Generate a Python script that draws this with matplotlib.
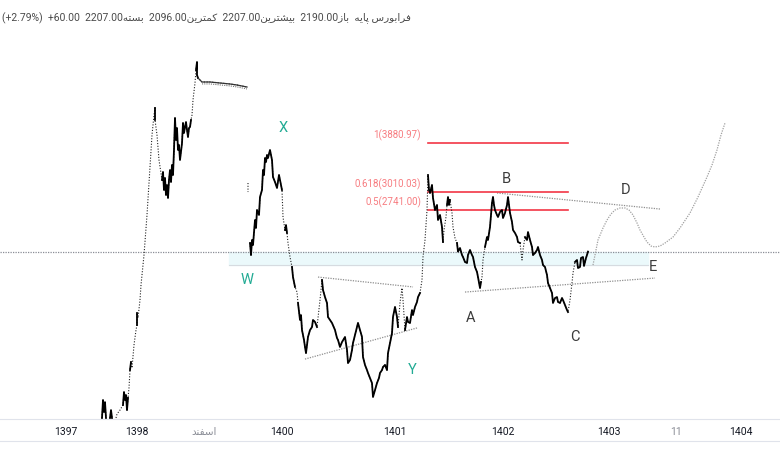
import matplotlib.pyplot as plt
import matplotlib.lines as mlines
import numpy as np

nan = np.nan

# bar index / price path (dense = 1 where bars are packed, 0 where sparse dotted bars)
path_idx = [102, 103, 104, 105, 106, nan,
            110, 111, 112, nan,
            116, 117, 120, 123, 124, 125, 126, 127, 128, 129, 130, 131, 132, 134, 136, 137, 137, 138,
            140, 141, 144, 147, 150, 152, 154, 155, 155, 157, 159,
            162, 163, 164, 165, 166, 167, 168, 169, 170, 171, 172, 173, 174, 175, 176, 177, 178, 179,
            180, 181, 182, 183, 184, 185, 186, 187, 188, 189, 190, 191, 192, 193, 195, 196, 197, 197,
            198, 202, 210, 220, 230, 237, 247, nan,
            248, 248, nan,
            250, 251, 252, 253, 255, 256, 257, 259, 260, 262, 263, 264, 265, 266, 267, 268, 270, 271,
            272, 273, 275, 277, 279, 280, 282, 283, 285, 286, 287, 288, 290, 292, 293, 295, 297, 298,
            300, 301, 302, 304, 305, 306, 307, 308, 310, 312, 313, 315, 317, 318, 320, 322, 323, 325,
            327, 328, 330, 332, 335, 337, 338, 340, 342, 345, 347, 348, 350, 352, 353, 355, 357, 358,
            360, 362, 363, 365, 367, 368, 370, 372, 373, 375, 377, 379, 380, 382, 383, 385, 387, 388,
            390, 392, 393, 395, 397, 398, 400, 402, 403, 405, 407, 408, 410, 412, 413, 415, 417, 418,
            420, 422, 423, 425, 427, 428, 429, 430, 432, 433, 435, 437, 438, 440, 442, 443, 444, 446,
            447, 448, 449, 450, 452, 453, 455, 457, 458, 460, 462, 463, 465, 467, 468, 470, 472, 473,
            475, 477, 478, 480, 481, 482, 483, 485, 487, 488, 490, 492, 493, 494, 495, 497, 498, 500,
            502, 503, 505, 507, 508, 509, 510, 512, 513, 515, 517, 518, 520, 522, 523, 525, 527, 528,
            530, 532, 533, 535, 537, 538, 540, 542, 543, 545, 547, 548, 550, 552, 553, 555, 557, 558,
            560, 562, 563, 565, 567, 568, 570, 572, 573, 575, 577, 578, 580, 581, 583, 584, 586, 587, 588]
path_price = [928, 1019, 957, 1008, 928, nan,
              928, 967, 928, nan,
              928, 947, 967, 993, 1062, 1019, 1046, 967, 1030, 1085, 1191, 1242, 1204, 1357, 1467, 1506, 1603, 1562,
              1715, 1855, 2168, 2671, 3429, 4051, 4495, 4663, 4381, 4051, 3556,
              3205, 3341, 3042, 3238, 2964, 3122, 2918, 3205, 3376, 3171, 3465, 3289, 3747, 4426, 3947, 4201, 3747, 3845,
              3556, 3708, 3881, 4312, 4093, 4223, 4335, 4158, 4009, 4201, 4223, 4381, 4495, 4861, 5311, 5683, 5925, 5537,
              5451, 5339, 5339, 5311, 5284, 5256, 5201, nan,
              3155, 3010, nan,
              2308, 2168, 2345, 2284, 2602, 2496, 2741, 2671, 2933, 3042, 3376, 3289, 3593, 3519, 3650, 3593, 3747, 3650,
              3556, 3255, 3171, 3074, 3289, 3205, 3042, 2643, 2470, 2535, 2432, 2308, 2146, 2037, 1933, 1836, 1788, 1689,
              1546, 1586, 1467, 1393, 1343, 1301, 1357, 1415, 1467, 1490, 1546, 1530, 1490, 1562, 1715, 1904, 1807, 1742,
              1689, 1570, 1546, 1522, 1467, 1407, 1393, 1343, 1378, 1415, 1322, 1235, 1255, 1322, 1371, 1429, 1490, 1522,
              1467, 1415, 1275, 1223, 1191, 1173, 1143, 1113, 1035, 1073, 1113, 1143, 1173, 1191, 1210, 1223, 1191, 1301,
              1371, 1444, 1570, 1654, 1570, 1490, 1689, 1826, 1715, 1467, 1570, 1530, 1522, 1628, 1586, 1654, 1698, 1742,
              1779, 1904, 2146, 2345, 2741, 3289, 3042, 2995, 3122, 2918, 2741, 2813, 2602, 2671, 2509, 2320, 2470, 2643,
              2813, 2933, 2813, 2888, 2699, 2509, 2369, 2308, 2207, 2249, 2168, 2146, 2091, 2080, 2168, 2226, 2168, 2146,
              2037, 1985, 1933, 1826, 1884, 1933, 2113, 2261, 2381, 2345, 2509, 2843, 2933, 2813, 2741, 2671, 2643, 2713,
              2741, 2629, 2699, 2813, 2933, 2813, 2699, 2575, 2470, 2432, 2381, 2320, 2308, 2113, 2226, 2381, 2345, 2444,
              2345, 2261, 2168, 2191, 2226, 2261, 2168, 2113, 2058, 2037, 1954, 1874, 1826, 1779, 1689, 1733, 1742, 1698,
              1689, 1733, 1715, 1671, 1628, 1611, 1715, 1874, 1974, 2091, 2113, 2026, 2037, 2135, 2146, 2048, 2135, 2168, 2207]
path_dense = [1, 1, 1, 1, 1, 0,
              1, 1, 1, 0,
              1, 0, 0, 1, 1, 1, 1, 1, 1, 0, 1, 1, 0, 0, 0, 1, 1, 0,
              0, 0, 0, 0, 0, 0, 0, 1, 1, 0, 0,
              1, 1, 1, 1, 1, 1, 1, 1, 1, 1, 1, 1, 1, 1, 1, 1, 1, 1,
              1, 1, 1, 1, 1, 1, 1, 1, 1, 1, 1, 1, 0, 0, 0, 1, 1, 1,
              1, 1, 1, 1, 1, 1, 1, 0,
              0, 0, 0,
              1, 1, 1, 1, 1, 1, 1, 1, 1, 1, 1, 1, 1, 1, 1, 1, 1, 1,
              1, 1, 1, 1, 1, 1, 1, 0, 1, 1, 1, 0, 0, 1, 1, 1, 0, 1,
              1, 1, 1, 1, 1, 1, 1, 1, 1, 1, 1, 1, 1, 0, 0, 1, 1, 1,
              1, 1, 1, 1, 1, 1, 1, 1, 1, 1, 1, 1, 1, 1, 1, 1, 1, 1,
              1, 1, 1, 1, 1, 1, 1, 1, 1, 1, 1, 1, 1, 1, 1, 1, 1, 1,
              1, 1, 1, 1, 1, 1, 0, 0, 0, 1, 1, 1, 1, 1, 1, 1, 1, 1,
              1, 0, 0, 0, 0, 1, 1, 1, 1, 1, 1, 1, 1, 1, 1, 1, 0, 0,
              1, 1, 1, 1, 0, 0, 0, 1, 1, 1, 1, 1, 1, 1, 1, 1, 1, 1,
              1, 1, 1, 1, 1, 0, 0, 1, 1, 1, 1, 1, 1, 1, 1, 1, 1, 1,
              1, 1, 1, 1, 1, 1, 1, 1, 1, 1, 1, 1, 1, 0, 0, 1, 1, 1,
              1, 1, 1, 1, 1, 1, 1, 1, 1, 1, 1, 1, 1, 1, 1, 1, 1, 1,
              1, 1, 1, 1, 1, 1, 0, 0, 0, 1, 1, 1, 1, 1, 1, 1, 1, 1, 1]

# quiet drift after the 1398 top (thin line)
drift_idx = [198, 202, 210, 220, 230, 237, 247]
drift_price = [5451, 5339, 5339, 5311, 5284, 5256, 5201]

# projected path after E
proj_idx = [593, 598, 603, 607, 611, 615, 620, 625, 629, 633, 637, 640, 644, 647, 651, 655,
            660, 665, 673, 680, 690, 698, 707, 712, 717, 721, 725]
proj_price = [2058, 2345, 2496, 2602, 2685, 2741, 2770, 2770, 2741, 2671, 2562, 2470, 2381, 2320, 2272, 2261,
              2272, 2308, 2381, 2496, 2699, 2933, 3255, 3465, 3747, 4051, 4312]

# trend lines (start idx, end idx) / (start price, end price)
trend_idx = [(318, 413), (305, 417), (465, 655), (497, 660)]
trend_price = [(1933, 1836), (1261, 1483), (1788, 1923), (2995, 2755)]

fib_ratio = ['1', '0.618', '0.5']
fib_price = [3880.97, 3010.03, 2741.00]
fib_span = (428, 568)

last_price = 2207.00
zone_span = (229, 648)
zone_price = (2058, 2207)

wave_labels = ['W', 'X', 'Y', 'A', 'B', 'C', 'D', 'E']
wave_idx = [247, 283, 412, 471, 506, 575, 626, 653]
wave_price = [1904, 4201, 1191, 1562, 3221, 1415, 3042, 2037]
wave_teal = [True, True, True, False, False, False, False, False]

tick_pos = [66, 137, 204, 282, 395, 503, 609, 676, 741]
tick_labels = ['1397', '1398', 'اسفند', '1400', '1401', '1402', '1403', '11', '1404']

# minimal Persian shaping (matplotlib has no bidi / joining)
FORMS = {
    'ا': ('\uFE8D', '\uFE8E', None, None),
    'ب': ('\uFE8F', '\uFE90', '\uFE91', '\uFE92'),
    'پ': ('\uFB56', '\uFB57', '\uFB58', '\uFB59'),
    'ت': ('\uFE95', '\uFE96', '\uFE97', '\uFE98'),
    'د': ('\uFEA9', '\uFEAA', None, None),
    'ر': ('\uFEAD', '\uFEAE', None, None),
    'ز': ('\uFEAF', '\uFEB0', None, None),
    'س': ('\uFEB1', '\uFEB2', '\uFEB3', '\uFEB4'),
    'ش': ('\uFEB5', '\uFEB6', '\uFEB7', '\uFEB8'),
    'ف': ('\uFED1', '\uFED2', '\uFED3', '\uFED4'),
    'ک': ('\uFB8E', '\uFB8F', '\uFB90', '\uFB91'),
    'م': ('\uFEE1', '\uFEE2', '\uFEE3', '\uFEE4'),
    'ن': ('\uFEE5', '\uFEE6', '\uFEE7', '\uFEE8'),
    'ه': ('\uFEE9', '\uFEEA', '\uFEEB', '\uFEEC'),
    'و': ('\uFEED', '\uFEEE', None, None),
    'ی': ('\uFBFC', '\uFBFD', '\uFBFE', '\uFBFF'),
}


def fa(text):
    out = []
    for i, ch in enumerate(text):
        f = FORMS.get(ch)
        if f is None:
            out.append(ch)
            continue
        prev = text[i - 1] if i > 0 else None
        nxt = text[i + 1] if i + 1 < len(text) else None
        jp = prev in FORMS and FORMS[prev][2] is not None
        jn = nxt in FORMS and f[2] is not None
        if jp and jn:
            out.append(f[3])
        elif jp:
            out.append(f[1])
        elif jn:
            out.append(f[2])
        else:
            out.append(f[0])
    return ''.join(reversed(out))


plt.rcParams['font.family'] = ['Roboto', 'DejaVu Sans']

fig = plt.figure(figsize=(7.8, 4.7), dpi=100)
ax = fig.add_axes([0, 51 / 470, 1, 419 / 470])
ax.set_yscale('log')
ax.set_xlim(0, 780)
ax.set_ylim(923, 8183)

# support zone and last price line
ax.fill_between(zone_span, zone_price[0], zone_price[1], color='#ebf9fb', zorder=1)
ax.plot(zone_span, [zone_price[0]] * 2, color='#d6dbe0', lw=0.8, zorder=1)
ax.axhline(last_price, color='#8a8d96', lw=0.9, ls=(0, (1, 1)), zorder=2)

# fibonacci levels
for r, p in zip(fib_ratio, fib_price):
    ax.plot(fib_span, [p, p], color='#f23645', lw=1.2, zorder=3)
    ax.text(fib_span[0] - 7, p * 1.012, f'{r}({p:.2f})', color='#f77c80', fontsize=7,
            ha='right', va='bottom')

# trend lines
for xs, ps in zip(trend_idx, trend_price):
    ax.plot(xs, ps, color='#8f8f8f', lw=0.9, ls=(0, (1, 1)), zorder=2)

# price path
px = np.array(path_idx, dtype=float)
pp = np.array(path_price, dtype=float)
pd_ = np.array(path_dense)
ax.plot(px, pp, color='#222222', lw=0.8, ls=(0, (1, 1.5)), zorder=4)
solid = np.where(pd_ == 1, pp, nan)
solid[np.isin(px, drift_idx[1:])] = nan
ax.plot(px, solid, color='black', lw=1.3, zorder=5)
ax.plot(drift_idx, drift_price, color='#333333', lw=0.9, zorder=5)
ax.plot(drift_idx[1:], [p * 0.99 for p in drift_price[1:]], color='#777777', lw=0.8,
        ls=(0, (1, 1)), zorder=5)

# projection
ax.plot(proj_idx, proj_price, color='#a0a0a0', lw=0.9, ls=(0, (1, 1)), zorder=3)

# wave labels
for lab, x, p, teal in zip(wave_labels, wave_idx, wave_price, wave_teal):
    ax.text(x, p, lab, color='#22ab94' if teal else '#3c3c3c', fontsize=10.5,
            ha='center', va='center', zorder=6)

# time axis
ax.set_xticks(tick_pos)
ax.set_xticklabels([t if t.isdigit() else fa(t) for t in tick_labels], fontsize=7.5)
for t, lab in zip(ax.get_xticklabels(), tick_labels):
    t.set_color('#131722' if len(lab) == 4 and lab.isdigit() else '#8a8d96')
ax.tick_params(axis='x', length=0, pad=6)
ax.tick_params(axis='y', which='both', left=False, labelleft=False)
ax.yaxis.set_minor_formatter(plt.NullFormatter())
for s in ['top', 'left', 'right']:
    ax.spines[s].set_visible(False)
ax.spines['bottom'].set_color('#e0e3eb')
fig.add_artist(mlines.Line2D([0, 1], [29 / 470, 29 / 470], color='#e0e3eb', lw=0.8))

# header (words placed in display order)
header = (f"(+2.79%)  +60.00  2207.00{fa('بسته')}  2096.00{fa('کمترین')}  "
          f"2207.00{fa('بیشترین')}  2190.00{fa('باز')}  {fa('پایه')} {fa('فرابورس')}")
fig.text(2 / 780, 1 - 18 / 470, header, fontsize=7.5, color='#4a4a4a', va='center', ha='left')

fig.savefig('out.png', dpi=100, facecolor='white')
